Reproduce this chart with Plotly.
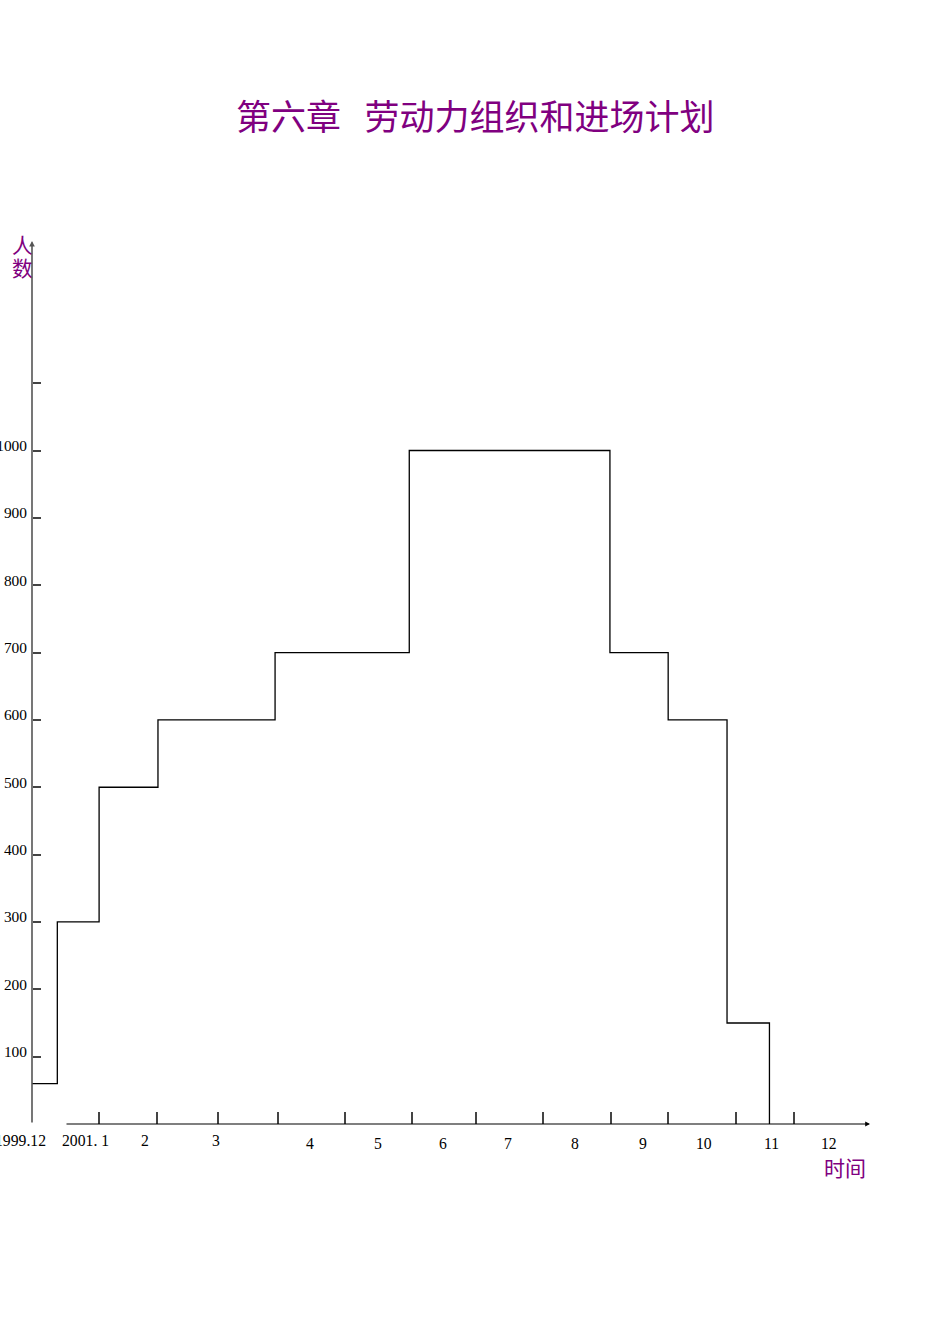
import plotly.graph_objects as go

# ---------------- data ----------------
# step boundaries, in months measured from the start of the time axis
step_start_months = [0.0, 0.40, 1.06, 1.99, 3.84, 5.96, 9.13, 10.05, 10.98, 11.65]
# number of workers in each step (last value = end, 0 workers)
workers = [60, 300, 500, 600, 700, 1000, 700, 600, 150, 0]

y_tick_values = [100, 200, 300, 400, 500, 600, 700, 800, 900, 1000, 1100]
y_tick_labels = ["100", "200", "300", "400", "500", "600", "700", "800", "900", "1000", ""]

x_tick_months = [1.06, 1.98, 2.94, 3.89, 4.95, 6.01, 7.01, 8.07, 9.14, 10.05, 11.12, 12.04]
x_label_texts = ["2001. 1", "2", "3", "4", "5", "6", "7", "8", "9", "10", "11", "12"]
x_label_months = [0.84, 1.79, 2.91, 4.39, 5.47, 6.49, 7.52, 8.58, 9.65, 10.62, 11.69, 12.59]
start_label = "1999.12"
start_label_month = 0.25

title_text = "第六章\u00a0\u00a0\u00a0劳动力组织和进场计划"
y_title_chars = ["人", "数"]
x_title = "时间"

# ---------------- layout geometry ----------------
W, H = 950, 1344
PX_PER_MONTH = 63.3
ORIGIN_X = 32          # pixel of month 0
ORIGIN_Y = 1124        # pixel of 0 workers
PX_PER_WORKER = 0.6735

x_range = [-ORIGIN_X / PX_PER_MONTH, (W - ORIGIN_X) / PX_PER_MONTH]
y_range = [-(H - ORIGIN_Y) / PX_PER_WORKER, ORIGIN_Y / PX_PER_WORKER]

def px_x(p):  # pixel -> month
    return (p - ORIGIN_X) / PX_PER_MONTH

def px_y(p):  # pixel -> workers
    return (ORIGIN_Y - p) / PX_PER_WORKER

def paper_y(p):
    return 1 - p / H

PURPLE = "#800080"
SERIF = "Liberation Serif, Times New Roman, serif"
CJK = "Noto Sans CJK SC, sans-serif"

fig = go.Figure()
fig.add_trace(go.Scatter(
    x=step_start_months, y=workers, mode="lines",
    line=dict(shape="hv", color="black", width=1.3),
    hoverinfo="skip", showlegend=False,
))

annotations = []
# title
annotations.append(dict(text=title_text, xref="paper", yref="paper",
                        x=475 / W, y=paper_y(115), showarrow=False,
                        xanchor="center", yanchor="middle",
                        font=dict(family=CJK, size=35, color=PURPLE)))
# y axis title (vertical characters)
for ch, py in zip(y_title_chars, [244, 267]):
    annotations.append(dict(text=ch, xref="paper", yref="paper",
                            x=22 / W, y=paper_y(py), showarrow=False,
                            xanchor="center", yanchor="middle",
                            font=dict(family=CJK, size=21, color=PURPLE)))
# x axis title
annotations.append(dict(text=x_title, xref="paper", yref="paper",
                        x=845 / W, y=paper_y(1167), showarrow=False,
                        xanchor="center", yanchor="middle",
                        font=dict(family=CJK, size=21, color=PURPLE)))
# x tick labels
annotations.append(dict(text=start_label, xref="x", yref="paper",
                        x=start_label_month, y=paper_y(1140), showarrow=False,
                        xanchor="right", yanchor="middle",
                        font=dict(family=SERIF, size=15.7, color="black")))
for i, (t, m) in enumerate(zip(x_label_texts, x_label_months)):
    py = 1140 if i < 3 else 1143
    annotations.append(dict(text=t, xref="x", yref="paper",
                            x=m, y=paper_y(py), showarrow=False,
                            xanchor="center", yanchor="middle",
                            font=dict(family=SERIF, size=15.7, color="black")))
# axis lines with arrows
annotations.append(dict(text="", xref="x", yref="y", axref="x", ayref="y",
                        x=0, y=px_y(241), ax=0, ay=0, showarrow=True,
                        arrowhead=2, arrowsize=0.7, arrowwidth=1.6,
                        arrowcolor="#555555"))
annotations.append(dict(text="", xref="x", yref="y", axref="x", ayref="y",
                        x=px_x(870), y=0, ax=px_x(65), ay=0, showarrow=True,
                        arrowhead=2, arrowsize=0.8, arrowwidth=1.2,
                        arrowcolor="black"))

fig.update_layout(
    width=W, height=H,
    margin=dict(l=0, r=0, t=0, b=0, pad=0, autoexpand=False),
    paper_bgcolor="white", plot_bgcolor="white",
    showlegend=False,
    annotations=annotations,
    xaxis=dict(range=x_range, anchor="free", position=(H - ORIGIN_Y) / H,
               automargin=False,
               showgrid=False, zeroline=False, showline=False,
               tickmode="array", tickvals=x_tick_months, showticklabels=False,
               ticks="inside", ticklen=12, tickwidth=1.5, tickcolor="#444444"),
    yaxis=dict(range=y_range, anchor="free", position=ORIGIN_X / W,
               automargin=False,
               showgrid=False, zeroline=False, showline=False,
               tickmode="array", tickvals=y_tick_values, ticktext=y_tick_labels,
               ticks="inside", ticklen=8, tickwidth=1.5, tickcolor="#444444",
               ticklabelshift=-5, ticklabelstandoff=5,
               tickfont=dict(family=SERIF, size=15.4, color="black")),
)

fig.write_html("out.html",
               config={"displayModeBar": False},
               post_script="document.body.style.margin='0';document.body.style.overflow='hidden';")
